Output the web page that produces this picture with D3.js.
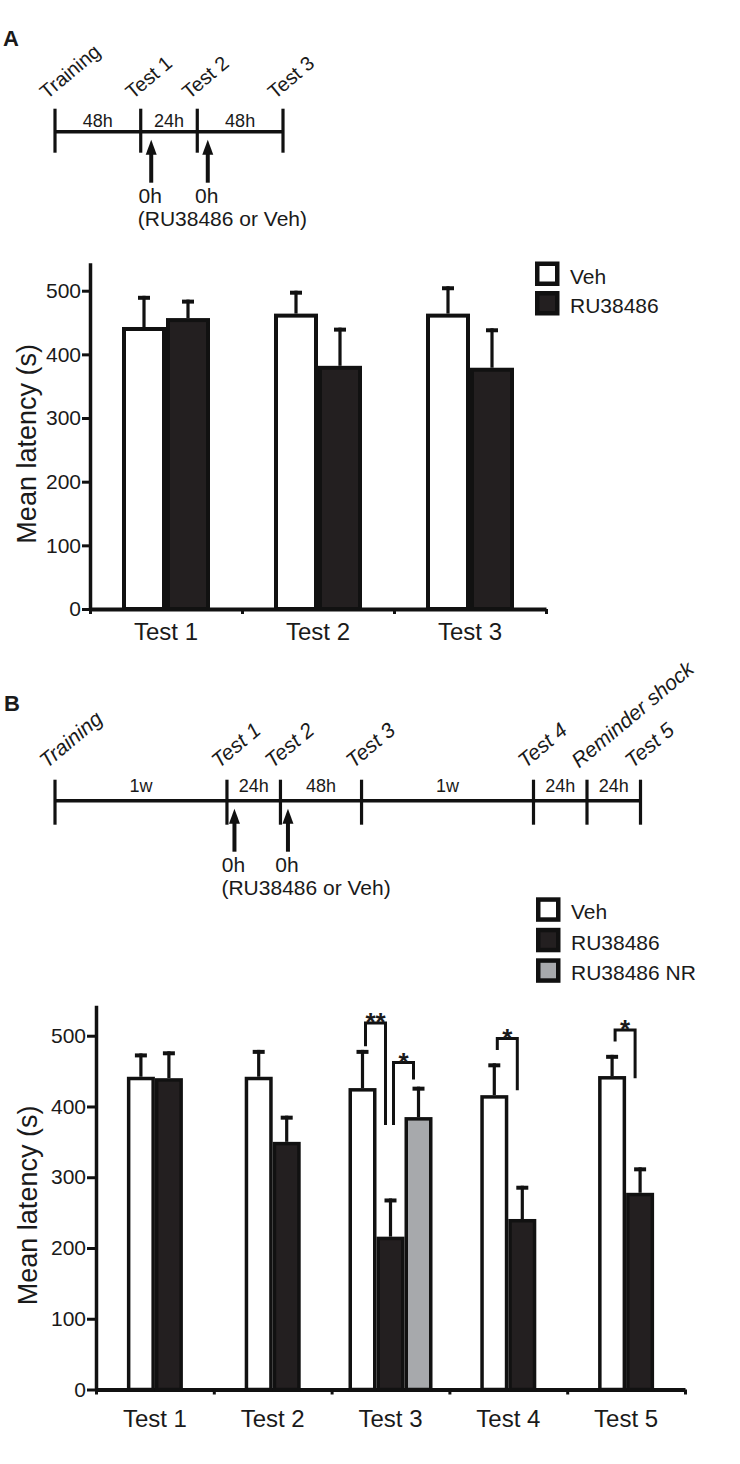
<!DOCTYPE html>
<html><head><meta charset="utf-8">
<script src="https://cdn.jsdelivr.net/npm/d3@7"></script>
<style>
body{margin:0;background:#fff}
svg{display:block}
text{font-family:"Liberation Sans",Arial,Helvetica,sans-serif;fill:#1a1a1a}
</style>
</head><body>
<svg id="c" width="740" height="1464"></svg>
<script>
// ---------- Panel A data ----------
const testsA = ["Test 1", "Test 2", "Test 3"];
const seriesA = ["Veh", "RU38486"];
const vehA = [443, 464, 464];
const vehErrA = [49, 36, 43];
const ruA = [457, 382, 379];
const ruErrA = [29, 60, 62];

// ---------- Panel B data ----------
const testsB = ["Test 1", "Test 2", "Test 3", "Test 4", "Test 5"];
const seriesB = ["Veh", "RU38486", "RU38486 NR"];
const vehB = [442, 442, 426, 416, 443];
const vehErrB = [33, 38, 54, 45, 30];
const ruB = [440, 350, 216, 241, 278];
const ruErrB = [38, 37, 54, 47, 36];
const nrB = [null, null, 385, null, null];
const nrErrB = [null, null, 43, null, null];

const yTicks = [0, 100, 200, 300, 400, 500];
const yLabel = "Mean latency (s)";

// ---------- timelines ----------
const timelineA = ["Training", "Test 1", "Test 2", "Test 3"];
const intervalsA = ["48h", "24h", "48h"];
const hoursA = [48, 24, 48];
const injectA = ["Test 1", "Test 2"];

const timelineB = ["Training", "Test 1", "Test 2", "Test 3", "Test 4", "Reminder shock", "Test 5"];
const intervalsB = ["1w", "24h", "48h", "1w", "24h", "24h"];
const hoursB = [168, 24, 48, 168, 24, 24];
const injectB = ["Test 1", "Test 2"];

const injectLabel = "0h";
const drugNote = "(RU38486 or Veh)";

// ---------- significance (Panel B) ----------
const sigTests = ["Test 3", "Test 3", "Test 4", "Test 5"];
const sigFrom = ["Veh", "RU38486", "Veh", "Veh"];
const sigTo = ["RU38486", "RU38486 NR", "RU38486", "RU38486"];
const sigTop = [518, 462, 496, 508];
const sigFromEnd = [485, 374, 480, 492];
const sigToEnd = [374, 438, 423, 440];
const sigLabels = ["**", "*", "*", "*"];

// ---------- drawing ----------
const svg = d3.select("#c");
const colors = {"Veh": "#ffffff", "RU38486": "#231f20", "RU38486 NR": "#a7a9ac"};
const INK = "#111";

function barChart(cfg) {
  const g = svg.append("g");
  const y = d3.scaleLinear().domain([0, cfg.yMax]).range([cfg.yZero, cfg.yTop]);
  const xb = d3.scaleLinear().domain([0, cfg.tests.length]).range([cfg.x0, cfg.x1]);

  const ya = g.append("g").attr("transform", `translate(${cfg.x0},0)`)
    .call(d3.axisLeft(y).tickValues(yTicks).tickSize(cfg.tick).tickSizeOuter(0).tickPadding(1));
  ya.select(".domain").attr("stroke", INK).attr("stroke-width", 3.5);
  ya.selectAll(".tick line").attr("stroke", INK).attr("stroke-width", 3);
  ya.selectAll(".tick text").attr("font-size", 21).attr("font-family", null).attr("fill", "#1a1a1a");

  const xa = g.append("g").attr("transform", `translate(0,${y(0)})`)
    .call(d3.axisBottom(xb).tickValues(d3.range(cfg.tests.length + 1)).tickFormat("").tickSize(5).tickSizeOuter(0));
  xa.select(".domain").attr("stroke", INK).attr("stroke-width", 4);
  xa.selectAll(".tick line").attr("stroke", INK).attr("stroke-width", 3);

  g.selectAll("text.xl").data(cfg.tests).join("text").attr("class", "xl")
    .attr("x", (d, i) => xb(i + 0.5)).attr("y", y(0) + cfg.labelDy)
    .attr("text-anchor", "middle").attr("font-size", 24).text(d => d);

  g.append("text").attr("transform", `translate(${cfg.titleX},${(cfg.yZero + cfg.yTop) / 2 + 8}) rotate(-90)`)
    .attr("text-anchor", "middle").attr("font-size", 27).text(yLabel);

  const sw = cfg.sw;
  const inners = cfg.tests.map((t, i) => {
    const present = cfg.series.filter((s, j) => cfg.values[j][i] != null);
    const c = xb(i + 0.5);
    return d3.scaleBand().domain(present)
      .range([c - present.length * cfg.barW / 2, c + present.length * cfg.barW / 2]);
  });
  const center = (ti, s) => inners[ti](s) + inners[ti].bandwidth() / 2;

  cfg.tests.forEach((t, i) => {
    cfg.series.forEach((s, j) => {
      const v = cfg.values[j][i];
      if (v == null) return;
      const e = cfg.errors[j][i];
      const bx = inners[i](s), bw = inners[i].bandwidth(), c = center(i, s);
      g.append("line").attr("x1", c).attr("x2", c).attr("y1", y(v)).attr("y2", y(v + e))
        .attr("stroke", INK).attr("stroke-width", 3.2);
      g.append("line").attr("x1", c - cfg.cap / 2).attr("x2", c + cfg.cap / 2)
        .attr("y1", y(v + e) + 2).attr("y2", y(v + e) + 2)
        .attr("stroke", INK).attr("stroke-width", 4);
      g.append("rect").attr("x", bx + sw / 2).attr("y", y(v) + sw / 2)
        .attr("width", bw - sw).attr("height", y(0) - y(v) - sw / 2)
        .attr("fill", colors[s]).attr("stroke", INK).attr("stroke-width", sw);
    });
  });
  return {y, xb, center, g};
}

function legend(series, x, yTop, step, fontSize) {
  const g = svg.append("g");
  series.forEach((s, i) => {
    const yy = yTop + i * step;
    g.append("rect").attr("x", x + 2.25).attr("y", yy + 2.25).attr("width", 20).attr("height", 20)
      .attr("fill", colors[s]).attr("stroke", INK).attr("stroke-width", 4.5);
    g.append("text").attr("x", x + 35).attr("y", yy + 22).attr("font-size", fontSize).text(s);
  });
}

function timeline(cfg) {
  const g = svg.append("g");
  const pw = d3.scalePow().exponent(0.6).domain([0, 168]).range([0, 1]);
  const cum = [0];
  cfg.hours.forEach(h => cum.push(cum[cum.length - 1] + pw(h)));
  const x = d3.scaleLinear().domain([0, cum[cum.length - 1]]).range([cfg.x0, cfg.x1]);
  const yl = cfg.y;
  g.append("line").attr("x1", x(0)).attr("x2", x(cum[cum.length - 1])).attr("y1", yl).attr("y2", yl)
    .attr("stroke", INK).attr("stroke-width", 3.5);
  cum.forEach((c, i) => {
    g.append("line").attr("x1", x(c)).attr("x2", x(c)).attr("y1", yl - cfg.up).attr("y2", yl + cfg.down)
      .attr("stroke", INK).attr("stroke-width", 3.2);
    g.append("text").attr("transform", `translate(${x(c) - 8},${yl - 32}) rotate(-40)`)
      .attr("font-size", cfg.labelSize).attr("font-style", cfg.italic ? "italic" : "normal")
      .text(cfg.labels[i]);
  });
  cfg.intervals.forEach((t, i) => {
    g.append("text").attr("x", x((cum[i] + cum[i + 1]) / 2)).attr("y", yl - cfg.intDy)
      .attr("text-anchor", "middle").attr("font-size", 18).text(t);
  });
  cfg.inject.forEach(name => {
    const i = cfg.labels.indexOf(name);
    const ax = x(cum[i]) + cfg.arrowOff;
    g.append("line").attr("x1", ax).attr("x2", ax).attr("y1", yl + 20).attr("y2", yl + 51)
      .attr("stroke", INK).attr("stroke-width", 4);
    g.append("path").attr("d", `M${ax},${yl + 8} L${ax - 5.5},${yl + 23} L${ax + 5.5},${yl + 23} Z`).attr("fill", INK);
    g.append("text").attr("x", ax - 1).attr("y", yl + 71).attr("text-anchor", "middle")
      .attr("font-size", 21).text(injectLabel);
  });
  const first = cfg.labels.indexOf(cfg.inject[0]);
  g.append("text").attr("x", x(cum[first]) - cfg.noteOff).attr("y", yl + 94)
    .attr("font-size", 21).text(drugNote);
}

svg.append("text").attr("x", 3).attr("y", 46).attr("font-size", 22).attr("font-weight", "bold").text("A");
svg.append("text").attr("x", 4).attr("y", 711).attr("font-size", 22).attr("font-weight", "bold").text("B");

timeline({labels: timelineA, intervals: intervalsA, hours: hoursA, inject: injectA,
  x0: 55, x1: 283, y: 131.7, up: 23, down: 21, labelSize: 20, italic: false,
  intDy: 5, arrowOff: 10.5, noteOff: 3});

barChart({tests: testsA, series: seriesA, values: [vehA, ruA], errors: [vehErrA, ruErrA],
  x0: 90, x1: 546, yZero: 609, yTop: 262.7, yMax: 544, barW: 44, sw: 4, cap: 12, tick: 8,
  labelDy: 31, titleX: 36});
legend(seriesA, 535, 261.5, 29.5, 21);

timeline({labels: timelineB, intervals: intervalsB, hours: hoursB, inject: injectB,
  x0: 55, x1: 640.5, y: 800.7, up: 21, down: 24, labelSize: 21, italic: true,
  intDy: 9, arrowOff: 7.5, noteOff: 5.5});

legend(seriesB, 536, 897.3, 30.5, 21);

const B = barChart({tests: testsB, series: seriesB, values: [vehB, ruB, nrB], errors: [vehErrB, ruErrB, nrErrB],
  x0: 96, x1: 685, yZero: 1389.5, yTop: 1005.3, yMax: 543, barW: 28, sw: 3.5, cap: 12, tick: 9,
  labelDy: 37, titleX: 37});

sigTests.forEach((t, k) => {
  const ti = testsB.indexOf(t);
  const lx = B.center(ti, sigFrom[k]) + 3;
  const rx = B.center(ti, sigTo[k]) - 5;
  B.g.append("path")
    .attr("d", `M${lx},${B.y(sigFromEnd[k])} V${B.y(sigTop[k])} H${rx} V${B.y(sigToEnd[k])}`)
    .attr("fill", "none").attr("stroke", INK).attr("stroke-width", 3);
  B.g.append("text").attr("x", (lx + rx) / 2).attr("y", B.y(sigTop[k]) + 8)
    .attr("text-anchor", "middle").attr("font-size", 26).attr("font-weight", "bold").text(sigLabels[k]);
});
</script>
</body></html>
